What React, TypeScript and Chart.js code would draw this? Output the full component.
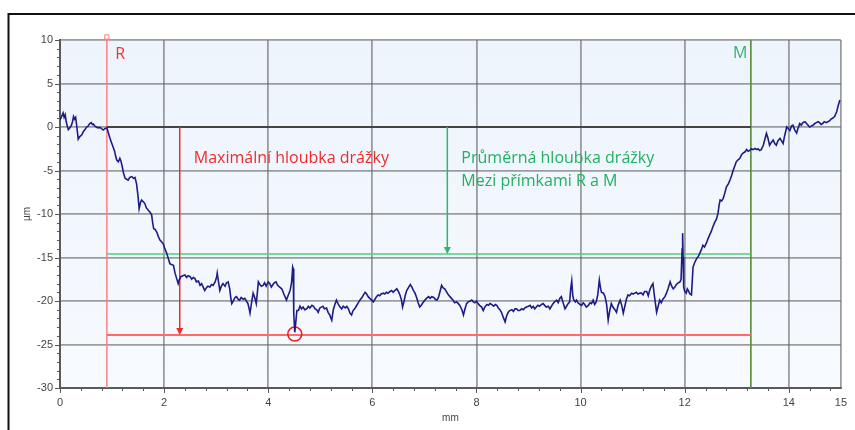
import React, { useEffect, useRef } from "react";
import { Chart, registerables } from "chart.js";
Chart.register(...registerables);

const X_TICKS = [0, 2, 4, 6, 8, 10, 12, 14, 15];
const Y_TICKS = [-30, -25, -20, -15, -10, -5, 0, 5, 10];
const X_TITLE = "mm";
const Y_TITLE = "µm";

const R_X = 0.9;
const M_X = 13.27;
const REF_Y = 0;
const MEAN_DEPTH = -14.6;
const MAX_DEPTH = -23.9;
const MAX_ARROW_X = 2.3;
const MEAN_ARROW_X = 7.44;
const MIN_POINT = { x: 4.51, y: -23.8 };
const R_TOP = 10.35;

const LABEL_R = { text: "R", x: 1.06, y: 8.3 };
const LABEL_M = { text: "M", x: 12.93, y: 8.5 };
const TEXT_MAX = { lines: ["Maximální hloubka drážky"], x: 2.57, y: -3.58 };
const TEXT_MEAN = { lines: ["Průměrná hloubka drážky", "Mezi přímkami R a M"], x: 7.71, y: -3.58, y2: -6.3 };

// profile: [mm, µm]
const PROFILE: [number, number][] = [
  [0.00, 0.8], [0.03, 1.2], [0.06, 1.6], [0.08, 1.1], [0.10, 1.4], [0.12, 0.6], [0.14, 0.1], [0.16, -0.3],
  [0.19, -0.1], [0.22, 0.2], [0.24, 0.6], [0.26, 1.2], [0.28, 0.9], [0.30, 1.1], [0.32, 0.2], [0.35, -1.4],
  [0.38, -1.1], [0.42, -0.9], [0.45, -0.5], [0.48, -0.3], [0.51, 0.0], [0.54, 0.1], [0.57, 0.4], [0.60, 0.5],
  [0.62, 0.3], [0.64, 0.35], [0.67, 0.1], [0.70, 0.0], [0.73, -0.1], [0.77, -0.05], [0.80, -0.2], [0.83, -0.35],
  [0.86, -0.2], [0.90, -0.1], [0.93, -0.7], [0.96, -1.3], [0.99, -1.8], [1.02, -2.3], [1.05, -2.8], [1.07, -3.4],
  [1.09, -3.8], [1.12, -4.0], [1.15, -3.6], [1.17, -3.9], [1.19, -4.4], [1.22, -5.3], [1.25, -5.9], [1.28, -6.0],
  [1.31, -6.1], [1.34, -5.8], [1.38, -5.7], [1.41, -5.9], [1.44, -5.8], [1.47, -6.5], [1.50, -8.0], [1.52, -9.4],
  [1.55, -8.6], [1.57, -8.4], [1.60, -8.6], [1.63, -8.8], [1.66, -9.3], [1.70, -9.6], [1.73, -9.8], [1.76, -10.1],
  [1.78, -11.0], [1.80, -11.7], [1.83, -11.8], [1.86, -12.1], [1.89, -12.6], [1.92, -13.0], [1.95, -13.2], [1.98, -13.4],
  [2.01, -13.9], [2.05, -14.5], [2.08, -15.1], [2.11, -15.7], [2.14, -15.8], [2.18, -15.9], [2.21, -16.8], [2.24, -17.4],
  [2.27, -18.0], [2.29, -17.6], [2.32, -17.2], [2.36, -17.1], [2.40, -17.0], [2.43, -17.3], [2.46, -17.1], [2.50, -17.2],
  [2.53, -17.5], [2.56, -17.3], [2.59, -17.4], [2.62, -17.8], [2.66, -17.7], [2.69, -18.2], [2.72, -18.0], [2.75, -18.4],
  [2.78, -18.8], [2.81, -18.5], [2.84, -18.3], [2.88, -18.4], [2.91, -18.1], [2.94, -18.2], [2.98, -17.8], [3.01, -17.2],
  [3.02, -16.8], [3.04, -17.6], [3.07, -18.8], [3.10, -18.3], [3.13, -18.0], [3.17, -18.3], [3.20, -17.9], [3.23, -17.8],
  [3.26, -18.6], [3.28, -19.6], [3.30, -20.3], [3.33, -20.0], [3.36, -19.6], [3.39, -19.5], [3.42, -19.8], [3.45, -19.9],
  [3.48, -19.6], [3.52, -19.8], [3.55, -19.7], [3.58, -20.0], [3.61, -20.3], [3.63, -20.8], [3.65, -21.4], [3.68, -20.2],
  [3.71, -19.1], [3.74, -19.6], [3.77, -20.3], [3.80, -18.5], [3.81, -17.8], [3.84, -18.1], [3.87, -18.3], [3.90, -18.2],
  [3.93, -17.9], [3.96, -18.3], [4.00, -17.8], [4.03, -18.0], [4.06, -18.4], [4.09, -18.1], [4.12, -17.9], [4.15, -17.8],
  [4.18, -18.2], [4.22, -18.4], [4.26, -18.6], [4.30, -19.2], [4.35, -19.9], [4.38, -19.4], [4.42, -18.8], [4.45, -17.8],
  [4.47, -16.1], [4.48, -16.3], [4.49, -21.4], [4.51, -23.6], [4.53, -22.4], [4.55, -21.1], [4.58, -21.1], [4.61, -20.6],
  [4.64, -20.9], [4.67, -20.7], [4.70, -21.0], [4.74, -20.9], [4.77, -20.6], [4.80, -20.8], [4.84, -20.5], [4.87, -20.6],
  [4.90, -20.9], [4.93, -21.0], [4.96, -21.3], [4.99, -20.8], [5.02, -20.7], [5.05, -20.6], [5.08, -20.9], [5.12, -20.8],
  [5.15, -21.3], [5.18, -21.6], [5.22, -22.2], [5.25, -21.0], [5.28, -20.4], [5.31, -19.9], [5.34, -20.3], [5.38, -20.7],
  [5.41, -20.9], [5.44, -20.6], [5.48, -20.8], [5.51, -20.6], [5.54, -20.9], [5.57, -21.4], [5.60, -21.6], [5.63, -21.1],
  [5.66, -20.9], [5.69, -20.6], [5.72, -20.3], [5.76, -19.9], [5.80, -19.6], [5.83, -19.3], [5.86, -19.0], [5.89, -19.2],
  [5.92, -19.5], [5.95, -19.7], [5.99, -19.9], [6.02, -20.1], [6.05, -19.8], [6.08, -19.5], [6.11, -19.3], [6.14, -19.4],
  [6.17, -19.2], [6.21, -19.1], [6.24, -19.2], [6.27, -19.0], [6.30, -19.1], [6.34, -18.9], [6.37, -18.8], [6.40, -19.0],
  [6.43, -18.8], [6.47, -18.6], [6.50, -18.9], [6.53, -19.3], [6.56, -19.9], [6.58, -20.7], [6.61, -20.0], [6.63, -19.4],
  [6.66, -18.8], [6.69, -18.5], [6.73, -18.1], [6.76, -18.4], [6.79, -18.8], [6.82, -19.1], [6.85, -19.6], [6.88, -20.2],
  [6.91, -20.7], [6.94, -20.5], [6.97, -20.2], [7.01, -19.9], [7.04, -19.7], [7.08, -19.5], [7.11, -19.7], [7.14, -19.5],
  [7.18, -19.6], [7.21, -19.8], [7.24, -19.9], [7.27, -19.6], [7.30, -18.9], [7.33, -18.2], [7.36, -18.5], [7.39, -18.6],
  [7.42, -18.9], [7.45, -19.2], [7.49, -19.5], [7.52, -19.7], [7.55, -19.9], [7.58, -20.2], [7.62, -20.1], [7.65, -20.3],
  [7.68, -20.5], [7.72, -21.0], [7.75, -21.6], [7.78, -20.9], [7.81, -20.3], [7.84, -20.1], [7.88, -20.0], [7.91, -19.9],
  [7.94, -20.1], [7.97, -20.2], [8.00, -20.0], [8.03, -20.3], [8.06, -20.5], [8.10, -20.7], [8.13, -21.1], [8.16, -20.7],
  [8.20, -20.4], [8.23, -20.5], [8.26, -20.3], [8.29, -20.4], [8.33, -20.6], [8.36, -20.4], [8.39, -20.5], [8.42, -20.8],
  [8.45, -21.0], [8.48, -21.3], [8.51, -21.8], [8.55, -22.4], [8.58, -21.7], [8.61, -21.3], [8.64, -21.1], [8.68, -21.0],
  [8.71, -21.2], [8.74, -20.9], [8.77, -20.9], [8.80, -21.1], [8.83, -21.1], [8.87, -20.9], [8.90, -21.0], [8.93, -20.8],
  [8.96, -20.7], [9.00, -20.6], [9.03, -20.5], [9.06, -20.8], [9.09, -20.6], [9.12, -20.9], [9.15, -20.7], [9.18, -20.5],
  [9.21, -20.6], [9.25, -20.4], [9.28, -20.3], [9.31, -20.5], [9.34, -20.7], [9.38, -20.6], [9.41, -20.9], [9.44, -20.6],
  [9.47, -20.3], [9.50, -20.1], [9.54, -19.9], [9.57, -20.2], [9.60, -19.7], [9.63, -19.5], [9.66, -20.1], [9.70, -20.9],
  [9.73, -20.6], [9.76, -20.3], [9.79, -20.1], [9.81, -18.6], [9.83, -17.7], [9.85, -19.4], [9.87, -19.9], [9.90, -20.1],
  [9.92, -19.9], [9.95, -20.2], [9.99, -20.4], [10.02, -20.5], [10.05, -20.2], [10.08, -20.4], [10.11, -20.7], [10.15, -20.5],
  [10.18, -20.2], [10.21, -20.3], [10.24, -19.9], [10.27, -20.4], [10.30, -20.1], [10.33, -19.3], [10.36, -17.6], [10.38, -18.4],
  [10.40, -19.0], [10.44, -19.1], [10.47, -19.5], [10.50, -20.4], [10.53, -22.2], [10.56, -21.1], [10.59, -20.3], [10.62, -20.7],
  [10.66, -21.0], [10.69, -21.3], [10.72, -20.5], [10.76, -19.9], [10.79, -20.5], [10.82, -21.4], [10.85, -20.6], [10.88, -19.8],
  [10.91, -19.3], [10.94, -19.4], [10.98, -19.1], [11.01, -19.2], [11.04, -19.1], [11.07, -19.0], [11.10, -19.2], [11.14, -19.1],
  [11.17, -19.1], [11.20, -19.3], [11.23, -18.9], [11.27, -18.9], [11.30, -19.4], [11.33, -18.7], [11.36, -18.3], [11.39, -18.0],
  [11.42, -19.5], [11.46, -21.3], [11.49, -20.6], [11.52, -19.9], [11.55, -20.2], [11.58, -19.8], [11.62, -19.5], [11.65, -19.1],
  [11.68, -18.6], [11.72, -17.8], [11.75, -18.3], [11.78, -18.6], [11.81, -18.4], [11.84, -18.1], [11.88, -17.9], [11.91, -17.8],
  [11.93, -17.5], [11.95, -14.0], [11.96, -12.2], [11.97, -15.0], [11.98, -18.4], [12.00, -18.9], [12.03, -19.1], [12.05, -18.6],
  [12.07, -18.8], [12.10, -19.2], [12.13, -19.3], [12.15, -17.2], [12.16, -16.1], [12.19, -15.6], [12.23, -15.1], [12.26, -14.9],
  [12.29, -14.5], [12.32, -14.1], [12.35, -13.6], [12.38, -13.8], [12.42, -13.3], [12.45, -12.8], [12.48, -12.4], [12.51, -12.0],
  [12.54, -11.5], [12.58, -10.9], [12.61, -10.6], [12.64, -9.9], [12.66, -9.0], [12.68, -8.4], [12.71, -8.5], [12.74, -8.2],
  [12.77, -7.6], [12.80, -6.9], [12.84, -6.5], [12.87, -6.1], [12.90, -5.6], [12.93, -5.0], [12.96, -4.5], [12.99, -4.0],
  [13.02, -3.8], [13.06, -3.6], [13.09, -3.2], [13.12, -3.0], [13.16, -2.85], [13.19, -2.6], [13.22, -2.8], [13.25, -2.7],
  [13.28, -2.5], [13.31, -2.6], [13.35, -2.47], [13.38, -2.6], [13.41, -2.5], [13.44, -2.7], [13.47, -2.6], [13.51, -2.1],
  [13.54, -1.4], [13.57, -0.74], [13.60, -1.3], [13.63, -2.1], [13.66, -1.8], [13.70, -1.5], [13.73, -1.9], [13.76, -2.1],
  [13.79, -1.6], [13.83, -1.3], [13.86, -1.6], [13.89, -1.9], [13.92, -1.0], [13.96, 0.0], [13.99, -0.2], [14.02, -0.4],
  [14.05, 0.1], [14.08, 0.2], [14.11, -0.3], [14.15, -0.7], [14.18, -0.1], [14.21, 0.4], [14.24, 0.2], [14.27, 0.5],
  [14.31, 0.6], [14.34, 0.4], [14.37, 0.2], [14.40, 0.0], [14.43, 0.1], [14.46, 0.2], [14.50, 0.4], [14.53, 0.5],
  [14.56, 0.6], [14.59, 0.5], [14.62, 0.3], [14.65, 0.4], [14.68, 0.6], [14.72, 0.5], [14.75, 0.6], [14.78, 0.7],
  [14.81, 0.9], [14.84, 1.0], [14.88, 1.2], [14.90, 1.5], [14.92, 1.75], [14.95, 2.5], [14.98, 3.1],
];

const TEXT_FONT = '"Open Sans", "Liberation Sans", sans-serif';
const AXIS_FONT = '"Liberation Sans", Arial, sans-serif';

const decorPlugin = {
  id: "decor",
  beforeDraw(chart: any) {
    const { ctx, chartArea: a } = chart;
    ctx.save();
    ctx.fillStyle = "#ffffff";
    ctx.fillRect(0, 0, chart.width, chart.height);
    ctx.strokeStyle = "#111111";
    ctx.lineWidth = 2;
    ctx.strokeRect(8.5, 14, 2000, 2000);
    const g = ctx.createLinearGradient(0, a.top, 0, a.bottom);
    g.addColorStop(0, "#edf4fc");
    g.addColorStop(1, "#f7faff");
    ctx.fillStyle = g;
    ctx.fillRect(a.left, a.top, a.right - a.left, a.bottom - a.top);
    ctx.restore();
  },
  afterDraw(chart: any) {
    const { ctx, chartArea: a } = chart;
    const xs = chart.scales.x;
    const ys = chart.scales.y;
    ctx.save();
    // minor ticks
    ctx.strokeStyle = "#555555";
    ctx.lineWidth = 1;
    ctx.beginPath();
    for (let i = 0; i <= 37; i++) {
      const v = i * 0.4;
      const px = Math.round(xs.getPixelForValue(v)) + 0.5;
      const len = Math.abs(v / 2 - Math.round(v / 2)) < 1e-6 ? 5 : 3;
      ctx.moveTo(px, a.bottom);
      ctx.lineTo(px, a.bottom + len);
    }
    for (let v = -30; v <= 10; v++) {
      const py = Math.round(ys.getPixelForValue(v)) + 0.5;
      const len = v % 5 === 0 ? 5 : 3;
      ctx.moveTo(a.left - len, py);
      ctx.lineTo(a.left, py);
    }
    ctx.stroke();

    // arrowheads
    const head = (x: number, y: number, color: string) => {
      const px = xs.getPixelForValue(x);
      const py = ys.getPixelForValue(y);
      ctx.fillStyle = color;
      ctx.beginPath();
      ctx.moveTo(px, py);
      ctx.lineTo(px - 3.5, py - 7);
      ctx.lineTo(px + 3.5, py - 7);
      ctx.closePath();
      ctx.fill();
    };
    head(MAX_ARROW_X, MAX_DEPTH, "#f02a2a");
    head(MEAN_ARROW_X, MEAN_DEPTH, "#2db86a");

    // labels
    ctx.textBaseline = "middle";
    ctx.textAlign = "left";
    ctx.font = `16px ${TEXT_FONT}`;
    ctx.fillStyle = "#f03535";
    ctx.fillText(LABEL_R.text, xs.getPixelForValue(LABEL_R.x), ys.getPixelForValue(LABEL_R.y));
    ctx.fillStyle = "#33b36a";
    ctx.fillText(LABEL_M.text, xs.getPixelForValue(LABEL_M.x), ys.getPixelForValue(LABEL_M.y));

    ctx.font = `16px ${TEXT_FONT}`;
    ctx.fillStyle = "#f02a2a";
    ctx.fillText(TEXT_MAX.lines[0], xs.getPixelForValue(TEXT_MAX.x), ys.getPixelForValue(TEXT_MAX.y));
    ctx.fillStyle = "#22b060";
    ctx.fillText(TEXT_MEAN.lines[0], xs.getPixelForValue(TEXT_MEAN.x), ys.getPixelForValue(TEXT_MEAN.y));
    ctx.fillText(TEXT_MEAN.lines[1], xs.getPixelForValue(TEXT_MEAN.x), ys.getPixelForValue(TEXT_MEAN.y2));
    ctx.restore();
  },
};

export default function App() {
  const ref = useRef<HTMLCanvasElement | null>(null);
  useEffect(() => {
    if (!ref.current) return;
    const seg = (x1: number, y1: number, x2: number, y2: number) => [
      { x: x1, y: y1 },
      { x: x2, y: y2 },
    ];
    const lineDs = (data: any[], color: string, width: number, extra: any = {}) => ({
      data,
      borderColor: color,
      borderWidth: width,
      pointRadius: 0,
      fill: false,
      tension: 0,
      ...extra,
    });
    const chart = new Chart(ref.current, {
      type: "line",
      data: {
        datasets: [
          lineDs(PROFILE.map(([x, y]) => ({ x, y })), "#1c1c86", 1.6),
          {
            data: [{ x: MIN_POINT.x, y: MIN_POINT.y }],
            showLine: false,
            pointRadius: 7,
            pointStyle: "circle",
            pointBackgroundColor: "rgba(0,0,0,0)",
            pointBorderColor: "#ee2020",
            pointBorderWidth: 1.5,
          },
          lineDs(seg(MAX_ARROW_X, REF_Y, MAX_ARROW_X, MAX_DEPTH + 0.5), "#f02a2a", 1.5),
          lineDs(seg(MEAN_ARROW_X, REF_Y, MEAN_ARROW_X, MEAN_DEPTH + 0.5), "#2db86a", 1.5),
          lineDs(seg(R_X, REF_Y, M_X, REF_Y), "#444444", 2),
          lineDs(seg(R_X, MEAN_DEPTH, M_X, MEAN_DEPTH), "#4fcf80", 1.5),
          lineDs(seg(R_X, MAX_DEPTH, M_X, MAX_DEPTH), "#ff6a6a", 2),
          lineDs(seg(M_X, R_TOP - 0.35, M_X, -30), "#5b8c3a", 1),
          lineDs(seg(R_X, R_TOP, R_X, -30), "#ff8080", 1.5, {
            clip: false,
            pointRadius: [3, 0],
            pointStyle: "rect",
            pointBackgroundColor: "#ffffff",
            pointBorderColor: "#ff8080",
            pointBorderWidth: 1,
          }),
        ],
      },
      options: {
        responsive: false,
        animation: false,
        devicePixelRatio: 1,
        layout: { padding: { top: 40, right: 14, left: 0, bottom: 0 } },
        plugins: {
          legend: { display: false },
          tooltip: { enabled: false },
          title: { display: false },
        },
        scales: {
          x: {
            type: "linear",
            min: 0,
            max: 15,
            afterBuildTicks: (s: any) => {
              s.ticks = X_TICKS.map((v) => ({ value: v }));
            },
            afterFit: (s: any) => {
              s.height = 42;
            },
            grid: { color: "rgba(100,100,100,0.62)", lineWidth: 1.8, drawTicks: false },
            border: { display: true, color: "#5a5a5a", width: 2 },
            ticks: {
              color: "#444444",
              font: { family: AXIS_FONT, size: 11 },
              padding: 8,
              maxRotation: 0,
              autoSkip: false,
              callback: (v: any) => String(v),
            },
            title: {
              display: true,
              text: X_TITLE,
              color: "#444444",
              font: { family: AXIS_FONT, size: 10 },
              padding: { top: 0, bottom: 6 },
            },
          },
          y: {
            type: "linear",
            min: -30,
            max: 10,
            afterBuildTicks: (s: any) => {
              s.ticks = Y_TICKS.map((v) => ({ value: v }));
            },
            afterFit: (s: any) => {
              s.width = 60;
            },
            grid: { color: "rgba(100,100,100,0.62)", lineWidth: 1.8, drawTicks: false },
            border: { display: true, color: "#5a5a5a", width: 2 },
            ticks: {
              color: "#444444",
              font: { family: AXIS_FONT, size: 11 },
              padding: 7,
              autoSkip: false,
              callback: (v: any) => String(v),
            },
            title: {
              display: true,
              text: Y_TITLE,
              color: "#444444",
              font: { family: AXIS_FONT, size: 10 },
              padding: { top: 21, bottom: 0 },
            },
          },
        },
      } as any,
      plugins: [decorPlugin],
    });
    return () => chart.destroy();
  }, []);
  return (
    <div style={{ position: "fixed", left: 0, top: 0, width: 855, height: 430 }}>
      <canvas ref={ref} width={855} height={430} />
    </div>
  );
}
